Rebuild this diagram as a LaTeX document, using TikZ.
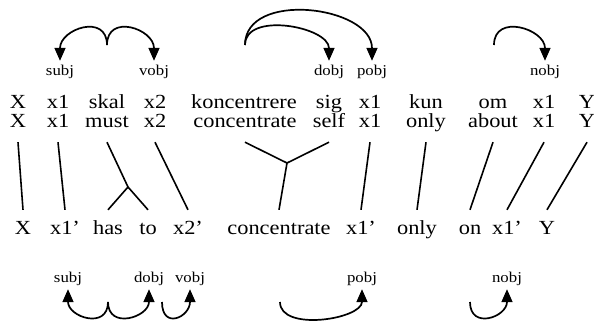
\documentclass[tikz,border=0pt]{standalone}
\usepackage{fontspec}
\setmainfont{Liberation Serif}[FakeStretch=1.12]
\usetikzlibrary{arrows.meta}
\tikzset{
word/.style={font=\fontsize{20}{24}\selectfont,inner xsep=0pt,inner ysep=10pt,text height=14pt,text depth=5pt,anchor=base},
lab/.style={font=\fontsize{15}{17}\selectfont,inner xsep=0pt,inner ysep=4pt,text height=10pt,text depth=3pt,anchor=base},
link/.style={line width=1.6pt},
dep/.style={line width=1.7pt,-{Triangle[length=13pt,width=11pt]}}
}
\begin{document}
\begin{tikzpicture}[x=1pt,y=-1pt]
\useasboundingbox(0,0)rectangle(594,322);
\foreach \w/\x[count=\i] in {X/18,x1/58,skal/107,x2/155,koncentrere/244,sig/329,x1/370,kun/426,om/493,x1/544,Y/587}
  \node[word](d\i)at(\x,108){\w};
\foreach \w/\x[count=\i] in {X/18,x1/58,must/107,x2/155,concentrate/245,self/329,x1/370,only/426,about/493,x1/544,Y/587}
  \node[word](e\i)at(\x,127){\w};
\foreach \w/\x[count=\i] in {X/23,x1'/65,has/108,to/148,x2'/188,concentrate/279,x1'/361,only/417,on/470,x1'/507,Y/547}
  \node[word](b\i)at(\x,234){\w};
\foreach \a/\b in {1/1,2/2,4/5,7/7,8/8,9/9,10/10,11/11}
  \draw[link](e\a.south)--(b\b.north);
\coordinate(j1)at(128,187);
\coordinate(j2)at(287,163);
\draw[link](e3.south)--(j1)--(b3.north)(j1)--(b4.north);
\draw[link](e5.south)--(j2)--(e6.south)(j2)--(b6.north);
\node[lab](t1)at(60,75){subj};
\node[lab](t2)at(154,75){vobj};
\node[lab](t3)at(329,75){dobj};
\node[lab](t4)at(372,75){pobj};
\node[lab](t5)at(545,75){nobj};
\coordinate(o1)at(107,45);
\coordinate(o2)at(245,45);
\coordinate(o3)at(494,45);
\draw[dep](o1)..controls+(0,-32)and+(0,-32)..(t1.north);
\draw[dep](o1)..controls+(0,-32)and+(0,-32)..(t2.north);
\draw[dep](o2)..controls+(0,-34)and+(0,-34)..(t3.north);
\draw[dep](o2)..controls+(0,-55)and+(0,-55)..(t4.north);
\draw[dep](o3)..controls+(0,-32)and+(0,-32)..(t5.north);
\node[lab](u1)at(68,282){subj};
\node[lab](u2)at(149,282){dobj};
\node[lab](u3)at(190,282){vobj};
\node[lab](u4)at(362,282){pobj};
\node[lab](u5)at(507,282){nobj};
\coordinate(p1)at(108,302);
\coordinate(p2)at(162,302);
\coordinate(p3)at(280,302);
\coordinate(p4)at(470,302);
\draw[dep](p1)..controls+(0,28)and+(0,28)..(u1.south);
\draw[dep](p1)..controls+(0,28)and+(0,28)..(u2.south);
\draw[dep](p2)..controls+(0,28)and+(0,28)..(u3.south);
\draw[dep](p3)..controls+(0,30)and+(0,30)..(u4.south);
\draw[dep](p4)..controls+(0,28)and+(0,28)..(u5.south);
\end{tikzpicture}
\end{document}
